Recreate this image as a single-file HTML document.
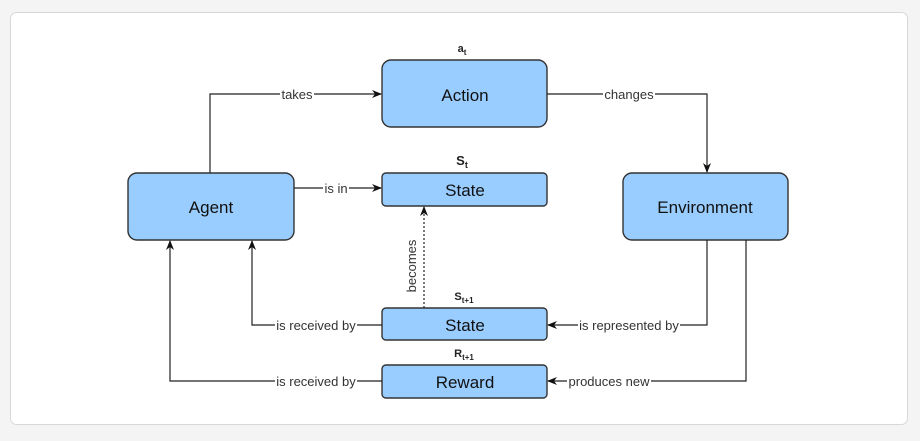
<!DOCTYPE html>
<html><head><meta charset="utf-8"><style>
html,body{margin:0;padding:0;background:#f4f4f4;width:920px;height:441px;overflow:hidden}
svg{display:block;font-family:"Liberation Sans",Arial,sans-serif}
</style></head><body>
<svg width="920" height="441" viewBox="0 0 920 441">
<defs><marker id="a" markerWidth="10" markerHeight="8" refX="9" refY="4" orient="auto" markerUnits="userSpaceOnUse"><path d="M0,0 L10,4 L0,8 L3,4Z" fill="#111"/></marker></defs>
<rect x="10.5" y="12.5" width="897" height="412" rx="6" fill="#fff" stroke="#d8d8d8"/>
<g fill="#99ccff" stroke="#333" stroke-width="1.4">
<rect x="382" y="60" width="165" height="67" rx="9"/>
<rect x="128" y="173" width="166" height="67" rx="9"/>
<rect x="382" y="173" width="165" height="33" rx="4"/>
<rect x="623" y="173" width="165" height="67" rx="9"/>
<rect x="382" y="308" width="165" height="32" rx="4"/>
<rect x="382" y="365" width="165" height="33" rx="4"/>
</g>
<g font-size="17" fill="#111" text-anchor="middle">
<text x="465" y="101">Action</text>
<text x="211" y="213">Agent</text>
<text x="465" y="196">State</text>
<text x="705" y="213">Environment</text>
<text x="465" y="331">State</text>
<text x="465" y="388">Reward</text>
</g>
<g font-size="11" font-weight="bold" fill="#222" text-anchor="middle">
<text x="462" y="52">a<tspan font-size="8" dy="3">t</tspan></text>
<text x="462" y="165" font-size="13">S<tspan font-size="9" dy="3">t</tspan></text>
<text x="464" y="300">S<tspan font-size="8" dy="3">t+1</tspan></text>
<text x="464" y="357">R<tspan font-size="8" dy="3">t+1</tspan></text>
</g>
<g fill="none" stroke="#222" stroke-width="1.2">
<path d="M210 173 V94 H381" marker-end="url(#a)"/>
<path d="M547 94 H707 V172" marker-end="url(#a)"/>
<path d="M294 188 H381" marker-end="url(#a)"/>
<path d="M424 308 V207" stroke-dasharray="2 2" marker-end="url(#a)"/>
<path d="M707 240 V325 H548" marker-end="url(#a)"/>
<path d="M746 240 V381 H548" marker-end="url(#a)"/>
<path d="M382 325 H252 V241" marker-end="url(#a)"/>
<path d="M382 381 H170 V241" marker-end="url(#a)"/>
</g>
<g fill="#fff">
<rect x="280" y="88" width="34" height="12"/>
<rect x="603" y="88" width="52" height="12"/>
<rect x="323" y="182" width="26" height="12"/>
<rect x="410" y="238" width="12" height="56"/>
<rect x="578" y="319" width="102" height="12"/>
<rect x="567" y="375" width="84" height="12"/>
<rect x="275" y="319" width="82" height="12"/>
<rect x="275" y="375" width="82" height="12"/>
</g>
<g font-size="13" fill="#333" text-anchor="middle">
<text x="297" y="99">takes</text>
<text x="629" y="99">changes</text>
<text x="336" y="193">is in</text>
<text x="0" y="0" transform="translate(416,266) rotate(-90)">becomes</text>
<text x="629" y="330">is represented by</text>
<text x="609" y="386">produces new</text>
<text x="316" y="330">is received by</text>
<text x="316" y="386">is received by</text>
</g>
</svg>
</body></html>
